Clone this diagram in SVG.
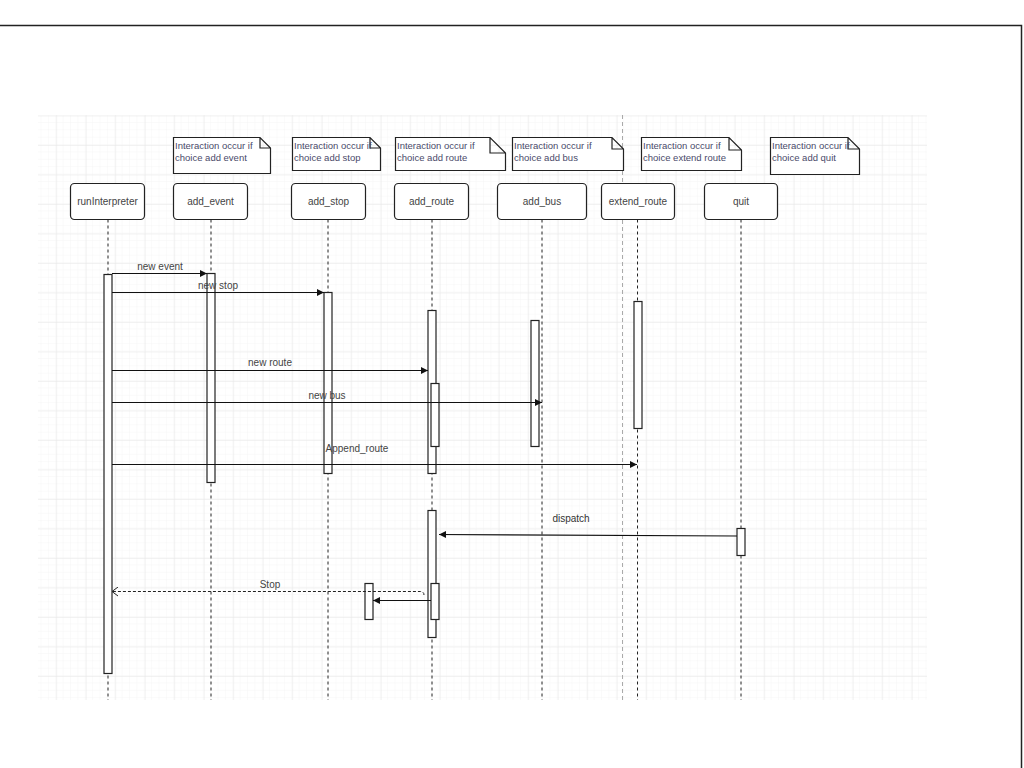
<svg xmlns="http://www.w3.org/2000/svg" width="1024" height="768" viewBox="0 0 1024 768">
<style>
text{font-family:"Liberation Sans","DejaVu Sans",sans-serif;font-size:10px;fill:#444}
.hdr rect{fill:#fff;stroke:#222;stroke-width:1.2}
.hdr text{text-anchor:middle;font-size:10px}
.life{stroke:#222;stroke-width:1;stroke-dasharray:3,3;fill:none}
.act{fill:#fff;stroke:#222;stroke-width:1.2}
.note path{fill:#fff;stroke:#222;stroke-width:1.2}
.note text{fill:#4a4a6a;font-size:9.5px}
.msg{stroke:#111;stroke-width:1.2;fill:none}
.ret{stroke:#222;stroke-width:1;stroke-dasharray:3,2;fill:none}
.lbl{text-anchor:middle}
</style>
<defs>
<pattern id="gmin" x="26.7" y="115.5" width="7.375" height="7.375" patternUnits="userSpaceOnUse">
<path d="M7.375 0V7.375H0" fill="none" stroke="#f3f3f3" stroke-width="0.8"/>
</pattern>
<pattern id="gmaj" x="26.7" y="115.5" width="29.5" height="29.5" patternUnits="userSpaceOnUse">
<path d="M0 0V29.5M0 0H29.5" fill="none" stroke="#e6e6e6" stroke-width="1"/>
</pattern>
<marker id="fill" markerWidth="8" markerHeight="8" refX="7" refY="4" orient="auto" markerUnits="userSpaceOnUse">
<path d="M0 0.5L7 4L0 7.5Z" fill="#111"/>
</marker>
<marker id="open" markerWidth="8" markerHeight="10" refX="6.5" refY="5" orient="auto" markerUnits="userSpaceOnUse">
<path d="M0.5 0.5L6.5 5L0.5 9.5" fill="none" stroke="#222" stroke-width="1"/>
</marker>
</defs>
<rect width="1024" height="768" fill="#fff"/>
<path d="M0 25.5H1021.5V768" fill="none" stroke="#222" stroke-width="1.5"/>
<rect x="38" y="115" width="889" height="585" fill="url(#gmin)"/>
<rect x="38" y="115" width="889" height="585" fill="url(#gmaj)"/>
<line x1="622.5" y1="115" x2="622.5" y2="700" stroke="#aaa" stroke-width="1" stroke-dasharray="4,3"/>

<g id="note-add-event" class="note"><path d="M173.5 137.5H260L270.5 148V173.5H173.5Z M260 137.5V148H270.5"/><text x="175" y="149">Interaction occur if</text><text x="175" y="161">choice add event</text></g>
<g id="note-add-stop" class="note"><path d="M292.5 137.5H370L380.5 148V170.5H292.5Z M370 137.5V148H380.5"/><text x="294" y="149">Interaction occur if</text><text x="294" y="161">choice add stop</text></g>
<g id="note-add-route" class="note"><path d="M395.5 137.5H490L505.5 153V170.5H395.5Z M490 137.5V153H505.5"/><text x="397" y="149">Interaction occur if</text><text x="397" y="161">choice add route</text></g>
<g id="note-add-bus" class="note"><path d="M512.5 137.5H612L623.5 149V170.5H512.5Z M612 137.5V149H623.5"/><text x="514" y="149">Interaction occur if</text><text x="514" y="161">choice add bus</text></g>
<g id="note-extend-route" class="note"><path d="M641.5 137.5H729L741.5 150V170.5H641.5Z M729 137.5V150H741.5"/><text x="643" y="149">Interaction occur if</text><text x="643" y="161">choice extend route</text></g>
<g id="note-add-quit" class="note"><path d="M770.5 137.5H848L859.5 149V174.5H770.5Z M848 137.5V149H859.5"/><text x="772" y="149">Interaction occur if</text><text x="772" y="161">choice add quit</text></g>

<g id="runInterpreter"><g class="hdr"><rect x="70.5" y="183.5" width="74" height="36" rx="4"/><text x="107.5" y="205">runInterpreter</text></g><line class="life" x1="108" y1="219.5" x2="108" y2="700"/><rect class="act" x="104" y="274.5" width="8" height="399"/></g>
<g id="add_event"><g class="hdr"><rect x="173.5" y="183.5" width="74" height="36" rx="4"/><text x="210.5" y="205">add_event</text></g><line class="life" x1="211" y1="219.5" x2="211" y2="700"/><rect class="act" x="207" y="273.5" width="8" height="209"/></g>
<g id="add_stop"><g class="hdr"><rect x="291.5" y="183.5" width="74" height="36" rx="4"/><text x="328.5" y="205">add_stop</text></g><line class="life" x1="328" y1="219.5" x2="328" y2="700"/><rect class="act" x="324" y="292.5" width="8" height="181"/><rect class="act" x="365" y="583.5" width="8" height="36"/></g>
<g id="add_route"><g class="hdr"><rect x="394.5" y="183.5" width="74" height="36" rx="4"/><text x="431.5" y="205">add_route</text></g><line class="life" x1="432" y1="219.5" x2="432" y2="700"/><rect class="act" x="428" y="310.5" width="8" height="163"/><rect class="act" x="431" y="383.5" width="8" height="63"/><rect class="act" x="428" y="510.5" width="8" height="127"/><rect class="act" x="431" y="583.5" width="8" height="36"/></g>
<g id="add_bus"><g class="hdr"><rect x="497.5" y="183.5" width="89" height="36" rx="4"/><text x="542" y="205">add_bus</text></g><line class="life" x1="542" y1="219.5" x2="542" y2="700"/><rect class="act" x="531" y="320.5" width="8" height="126"/></g>
<g id="extend_route"><g class="hdr"><rect x="601.5" y="183.5" width="73" height="36" rx="4"/><text x="638" y="205">extend_route</text></g><line class="life" x1="637.5" y1="219.5" x2="637.5" y2="700"/><rect class="act" x="634" y="301.5" width="8" height="127"/></g>
<g id="quit"><g class="hdr"><rect x="704.5" y="183.5" width="73" height="36" rx="4"/><text x="741" y="205">quit</text></g><line class="life" x1="741" y1="219.5" x2="741" y2="700"/><rect class="act" x="737" y="528.5" width="8" height="27"/></g>

<g id="connectors">
<line class="msg" x1="112" y1="273.5" x2="207" y2="273.5" marker-end="url(#fill)"/>
<text class="lbl" x="160" y="270">new event</text>
<line class="msg" x1="112" y1="292.5" x2="324" y2="292.5" marker-end="url(#fill)"/>
<text class="lbl" x="218" y="289">new stop</text>
<line class="msg" x1="112" y1="370.5" x2="428" y2="370.5" marker-end="url(#fill)"/>
<text class="lbl" x="270" y="366">new route</text>
<line class="msg" x1="112" y1="402.5" x2="542" y2="402.5" marker-end="url(#fill)"/>
<text class="lbl" x="327" y="399">new bus</text>
<line class="msg" x1="112" y1="464.5" x2="637" y2="464.5" marker-end="url(#fill)"/>
<text class="lbl" x="357" y="452">Append_route</text>
<line class="msg" x1="737" y1="536" x2="439" y2="534.5" marker-end="url(#fill)"/>
<text class="lbl" x="571" y="522" style="fill:#333">dispatch</text>
<path class="ret" d="M424 595Q424 591.5 420 591.5H112" marker-end="url(#open)"/>
<text class="lbl" x="270" y="588">Stop</text>
<line class="msg" x1="431" y1="600.5" x2="373" y2="600.5" marker-end="url(#fill)"/>
</g>
</svg>
